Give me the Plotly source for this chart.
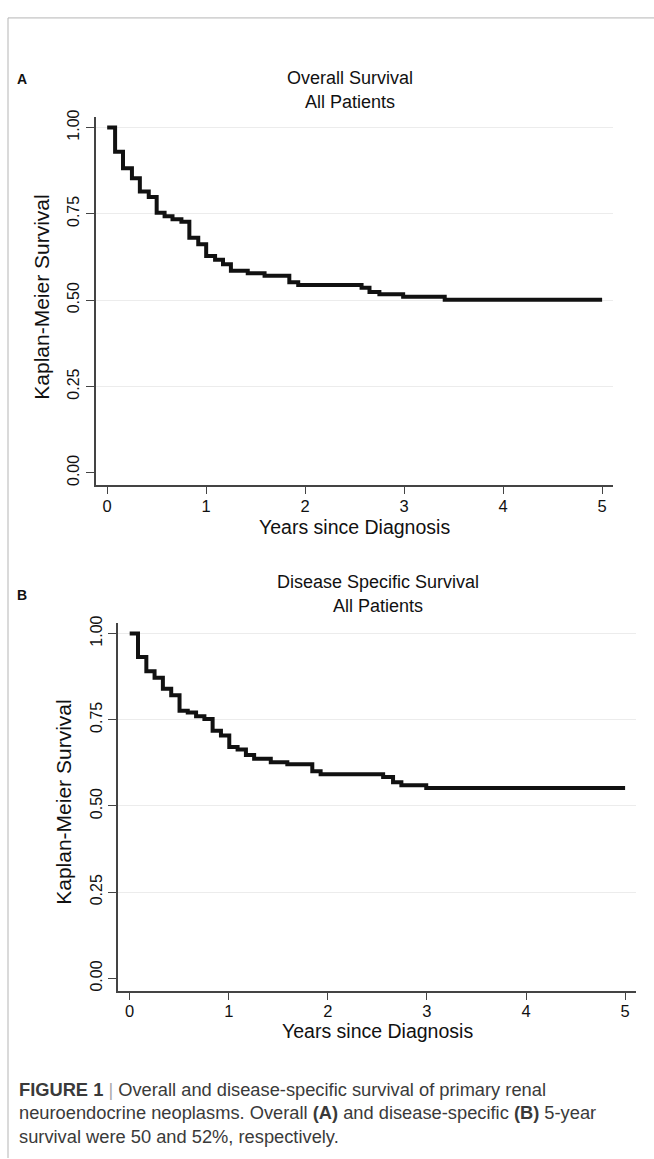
import plotly.graph_objects as go

# ---------------- data ----------------
os_time = [0, 0.08, 0.16, 0.25, 0.33, 0.42, 0.50, 0.58, 0.66, 0.75, 0.83, 0.92, 1.00,
           1.09, 1.17, 1.25, 1.42, 1.59, 1.84, 1.93, 2.57, 2.65, 2.75, 2.99, 3.41, 5.0]
os_surv = [1.0, 0.930, 0.882, 0.853, 0.815, 0.799, 0.753, 0.743, 0.734, 0.727, 0.681, 0.662, 0.628,
           0.617, 0.604, 0.585, 0.578, 0.571, 0.552, 0.544, 0.536, 0.524, 0.517, 0.510, 0.501, 0.501]

dss_time = [0, 0.084, 0.168, 0.251, 0.335, 0.419, 0.503, 0.586, 0.670, 0.754, 0.837, 0.921, 1.005,
            1.089, 1.173, 1.256, 1.424, 1.591, 1.843, 1.927, 2.558, 2.658, 2.742, 2.993, 5.0]
dss_surv = [1.0, 0.932, 0.891, 0.872, 0.840, 0.821, 0.776, 0.771, 0.760, 0.752, 0.718, 0.704, 0.671,
            0.664, 0.648, 0.637, 0.627, 0.621, 0.601, 0.592, 0.584, 0.569, 0.560, 0.552, 0.552]

x_ticks = [0, 1, 2, 3, 4, 5]
y_ticks = [0, 0.25, 0.5, 0.75, 1.0]
grid_levels = [0.25, 0.5, 0.75, 1.0]

panel_titles = [("Overall Survival", "All Patients"), ("Disease Specific Survival", "All Patients")]
panel_letters = ["A", "B"]
x_title = "Years since Diagnosis"
y_title = "Kaplan-Meier Survival"
caption_lines = [
    "<b>FIGURE 1</b> <span style='color:#aaaaaa'>|</span> Overall and disease-specific survival of primary renal",
    "neuroendocrine neoplasms. Overall <b>(A)</b> and disease-specific <b>(B)</b> 5-year",
    "survival were 50 and 52%, respectively.",
]

# ---------------- layout helpers ----------------
W, H = 654, 1159
FONT = "Liberation Sans, Arial, sans-serif"

def px(x):
    return x / W

def py(y):
    return 1 - y / H

XR = [-0.118, 5.11]
YR = [-0.036, 1.030]

panels = [
    dict(x0=95.5, x1=613, y0=110, y1=481, t=os_time, s=os_surv,
         title_y=(71, 95), title_cx=350, letter_y=72, ytitle_x=42, ytitle_y=292, xtitle_y=523),
    dict(x0=118, x1=636, y0=620, y1=990.5, t=dss_time, s=dss_surv,
         title_y=(578, 603), title_cx=378, letter_y=592, ytitle_x=64, ytitle_y=801, xtitle_y=1031),
]

fig = go.Figure()
annotations = []
layout_axes = {}

for i, p in enumerate(panels):
    xa = "x" if i == 0 else f"x{i+1}"
    ya = "y" if i == 0 else f"y{i+1}"
    gy = f"y{i+3}"
    xkey = "xaxis" if i == 0 else f"xaxis{i+1}"
    ykey = "yaxis" if i == 0 else f"yaxis{i+1}"
    gkey = f"yaxis{i+3}"

    fig.add_trace(go.Scatter(x=p["t"], y=p["s"], mode="lines", line_shape="hv",
                             line=dict(color="#111111", width=4), xaxis=xa, yaxis=ya,
                             showlegend=False, hoverinfo="skip"))

    dom_x = [px(p["x0"]), px(p["x1"])]
    dom_y = [py(p["y1"]), py(p["y0"])]
    layout_axes[xkey] = dict(domain=dom_x, range=XR, anchor=ya, tickvals=x_ticks,
                             showgrid=False, zeroline=False, showline=True, linecolor="#444444",
                             linewidth=1.6, ticks="outside", ticklen=7, tickwidth=1.4,
                             tickcolor="#444444", ticklabelstandoff=-2,
                             tickfont=dict(family=FONT, size=16.5, color="#111"))
    layout_axes[ykey] = dict(domain=dom_y, range=YR, anchor=xa, tickvals=y_ticks, tickformat=".2f",
                             tickangle=-90, showgrid=False, zeroline=False, showline=True,
                             linecolor="#444444", linewidth=1.6, ticks="outside", ticklen=8,
                             tickwidth=1.4, tickcolor="#444444", ticklabelstandoff=0,
                             tickfont=dict(family=FONT, size=16, color="#111"))
    layout_axes[gkey] = dict(domain=dom_y, range=YR, anchor=xa, overlaying=ya, tickvals=grid_levels,
                             showgrid=True, gridcolor="#ececec", gridwidth=1, showticklabels=False,
                             ticks="", showline=False, zeroline=False)
    fig.add_trace(go.Scatter(x=[None], y=[None], xaxis=xa, yaxis=gy, showlegend=False,
                             hoverinfo="skip"))

    for k, txt in enumerate(panel_titles[i]):
        annotations.append(dict(text=txt, x=px(p["title_cx"]), y=py(p["title_y"][k]),
                                xref="paper", yref="paper", xanchor="center", yanchor="middle",
                                showarrow=False, font=dict(family=FONT, size=18, color="#111")))
    annotations.append(dict(text=f"<b>{panel_letters[i]}</b>", x=px(15), y=py(p["letter_y"]),
                            xref="paper", yref="paper", xanchor="left", yanchor="middle",
                            showarrow=False, font=dict(family=FONT, size=14, color="#111")))
    annotations.append(dict(text=y_title, x=px(p["ytitle_x"]), y=py(p["ytitle_y"]),
                            xref="paper", yref="paper", xanchor="center", yanchor="middle",
                            textangle=-90, showarrow=False,
                            font=dict(family=FONT, size=21, color="#111")))
    annotations.append(dict(text=x_title, x=px((p["x0"] + p["x1"]) / 2), y=py(p["xtitle_y"]),
                            xref="paper", yref="paper", xanchor="center", yanchor="middle",
                            showarrow=False, font=dict(family=FONT, size=19.5, color="#111")))

cap_y = [1090, 1113.5, 1137]
for txt, yy in zip(caption_lines, cap_y):
    annotations.append(dict(text=txt, x=px(17), y=py(yy), xref="paper", yref="paper",
                            xanchor="left", yanchor="middle", showarrow=False,
                            font=dict(family=FONT, size=18.3, color="#3a3a3a")))

shapes = [
    dict(type="line", xref="paper", yref="paper", x0=px(8), x1=1.0, y0=py(10), y1=py(10),
         line=dict(color="#b5b5b5", width=1)),
    dict(type="line", xref="paper", yref="paper", x0=px(8), x1=px(8), y0=py(10), y1=0,
         line=dict(color="#b5b5b5", width=1)),
]

fig.update_layout(width=W, height=H, margin=dict(l=0, r=0, t=0, b=0),
                  paper_bgcolor="white", plot_bgcolor="white",
                  annotations=annotations, shapes=shapes, showlegend=False, **layout_axes)

fig.write_html("out.html", config={"displayModeBar": False},
               post_script="document.body.style.margin='0';")
